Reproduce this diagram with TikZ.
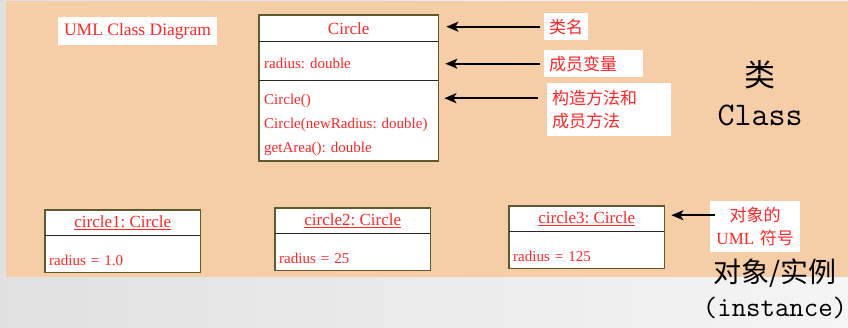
\documentclass[tikz,border=0pt]{standalone}
\usepackage{fontspec}
\setmainfont{Liberation Serif}
\setmonofont{Latin Modern Mono}
\newfontfamily\cjk{Noto Sans CJK SC}
\usepackage{tikz}
\usetikzlibrary{positioning, arrows.meta, calc}

\definecolor{slidebg}{HTML}{F5CEA8}
\definecolor{boxedge}{HTML}{5E5A30}
\definecolor{umlred}{HTML}{FF2626}
\frenchspacing

\begin{document}
\begin{tikzpicture}[x=1pt, y=-1pt,
                clstitle/.style={fill=white, text=umlred, minimum width=179pt, minimum height=26pt, inner sep=0pt, font=\fontsize{17pt}{20pt}\selectfont},
                clspart/.style={fill=white, text=umlred, inner xsep=5pt, inner ysep=2pt, text width=169pt, align=left, font=\fontsize{15pt}{24pt}\selectfont},
                objtitle/.style={fill=white, text=umlred, minimum width=155pt, minimum height=25pt, inner sep=0pt, font=\fontsize{17pt}{20pt}\selectfont},
                objpart/.style={fill=white, text=umlred, inner xsep=4pt, inner ysep=2pt, text width=147pt, align=left, minimum height=37pt, text height=25pt, text depth=2pt, font=\fontsize{15pt}{18pt}\selectfont},
                boxline/.style={draw=boxedge, line width=1.4pt},
                divider/.style={draw=black!85, line width=1.4pt},
                tag/.style={fill=white, text=umlred, inner xsep=5pt, inner ysep=2pt, align=left, font={\cjk\fontsize{17pt}{23pt}\selectfont}},
                pointer/.style={-{Stealth[length=12pt, width=10pt, inset=3pt]}, line width=1.8pt, black},
                bigzh/.style={inner sep=0pt, font={\cjk\fontsize{31pt}{34pt}\selectfont}},
                bigtt/.style={inner sep=0pt, font={\ttfamily\fontsize{33pt}{36pt}\selectfont}}
            ]

            \useasboundingbox (0,0) rectangle (848,328);

            % Hintergrund
            \fill[left color=black!12, middle color=white, right color=black!4] (0,0) rectangle (848,328);
            \fill[slidebg] (6,1) rectangle (848,277);

            \node[fill=white, text=umlred, minimum width=159pt, minimum height=28pt, inner sep=0pt, font=\fontsize{17.5pt}{20pt}\selectfont] (title) at (137.5,31) {UML Class Diagram};

            % Klasse
            \node[clstitle, anchor=north west] (clsname) at (259,15) {Circle};
            \node[clspart, anchor=north, minimum height=39pt, text height=17pt, text depth=2pt] (clsattr) at (clsname.south) {radius: double};
            \node[clspart, anchor=north, minimum height=80pt, text height=18pt] (clsops) at (clsattr.south) {Circle()\\Circle(newRadius: double)\\getArea(): double};
            \draw[boxline] (clsname.north west) rectangle (clsops.south east);
            \draw[divider] (clsname.south west) -- (clsname.south east);
            \draw[divider] (clsattr.south west) -- (clsattr.south east);

            % Objekte
            \foreach \i/\x/\y/\r in {1/45/210/1.0, 2/275/208/25, 3/509/206/125} {
                \node[objtitle, anchor=north west] (obj\i) at (\x,\y) {\underline{circle\i: Circle}};
                \node[objpart, anchor=north] (val\i) at (obj\i.south) {radius = \r};
                \draw[boxline] (obj\i.north west) rectangle (val\i.south east);
                \draw[divider] (obj\i.south west) -- (obj\i.south east);
            }

            % Beschriftungen
            \node[tag, anchor=north west, text width=34pt, minimum height=27pt] (lblname) at (544,13) {类名};
            \node[tag, anchor=north west, text width=89pt, minimum height=27pt] (lblattr) at (544,50) {成员变量};
            \node[tag, anchor=north west, text width=114pt, minimum height=53pt] (lblops) at (547,83) {构造方法和\\成员方法};
            \node[tag, anchor=north west, text width=80pt, align=center, minimum height=51pt] (lblobj) at (710,201) {对象的\\{\rmfamily UML} 符号};

            % Pfeile
            \coordinate (opsfrom) at ($(lblops.west)+(-9,-11.5)$);
            \coordinate (objfrom) at ($(lblobj.west)+(5,-11.5)$);
            \draw[pointer] ($(lblname.west)+(-4,0)$) -- ($(lblname.west -| clsname.east)+(8,0)$);
            \draw[pointer] ($(lblattr.west)+(-4,0)$) -- ($(lblattr.west -| clsattr.east)+(7,0)$);
            \draw[pointer] (opsfrom) -- ($(opsfrom -| clsops.east)+(6,0)$);
            \draw[pointer] (objfrom) -- ($(objfrom -| obj3.east)+(7,0)$);

            % Gross
            \node[bigzh] (classzh) at (760,75) {类};
            \node[bigtt] (classen) at (760,115) {Class};
            \node[bigzh, font={\cjk\fontsize{28pt}{30pt}\selectfont}] (objzh) at (775,273) {对象/实例};
            \node[bigtt, font={\ttfamily\fontsize{28pt}{30pt}\selectfont}] (objen) at (775,308) {(instance)};

        \end{tikzpicture}
\end{document}
